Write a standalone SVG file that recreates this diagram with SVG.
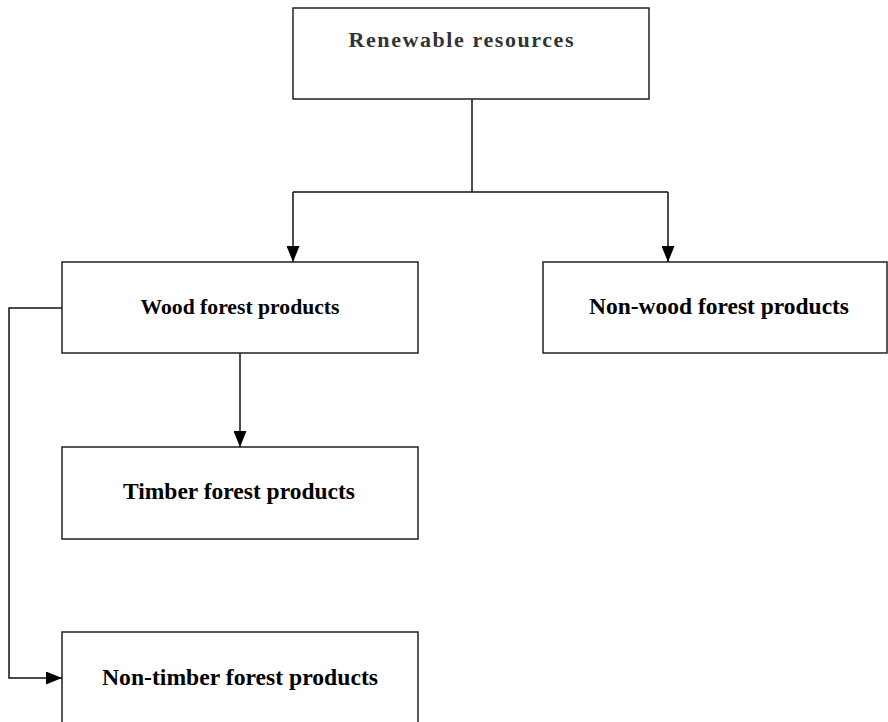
<svg xmlns="http://www.w3.org/2000/svg" width="888" height="722" viewBox="0 0 888 722">
  <style>
    .box { fill: #ffffff; stroke: #222222; stroke-width: 1.5; }
    .lbl { font-family: "Liberation Serif", "Times New Roman", serif; font-weight: bold; fill: #000000; text-anchor: middle; }
    .top { font-family: "Liberation Serif", "Times New Roman", serif; font-weight: bold; fill: #333333; text-anchor: middle; }
    .conn { fill: none; stroke: #111111; stroke-width: 1.5; }
  </style>
  <defs>
    <marker id="arr" markerUnits="userSpaceOnUse" markerWidth="16" markerHeight="13" viewBox="0 0 16 13" refX="16" refY="6.5" orient="auto">
      <path d="M0,0 L16,6.5 L0,13 Z" fill="#000000"/>
    </marker>
  </defs>
  <rect width="888" height="722" fill="#ffffff"/>

  <g id="connectors">
    <path class="conn" d="M472,99 V192"/>
    <path class="conn" d="M293,192 H668"/>
    <path class="conn" d="M293,192 V262" marker-end="url(#arr)"/>
    <path class="conn" d="M668,192 V262" marker-end="url(#arr)"/>
    <path class="conn" d="M240,353 V447" marker-end="url(#arr)"/>
    <path class="conn" d="M62,308 H9 V678 H62" marker-end="url(#arr)"/>
  </g>

  <g id="renewable">
    <rect class="box" x="293" y="8" width="356" height="91"/>
    <text class="top" x="461" y="47" font-size="22" textLength="225" lengthAdjust="spacing">Renewable resources</text>
  </g>

  <g id="wood">
    <rect class="box" x="62" y="262" width="356" height="91"/>
    <text class="lbl" x="240" y="314" font-size="21.5" textLength="199" lengthAdjust="spacingAndGlyphs">Wood forest products</text>
  </g>

  <g id="nonwood">
    <rect class="box" x="543" y="262" width="344" height="91"/>
    <text class="lbl" x="719" y="314" font-size="23" textLength="260" lengthAdjust="spacingAndGlyphs">Non-wood forest products</text>
  </g>

  <g id="timber">
    <rect class="box" x="62" y="447" width="356" height="92"/>
    <text class="lbl" x="239" y="499" font-size="23" textLength="232" lengthAdjust="spacingAndGlyphs">Timber forest products</text>
  </g>

  <g id="nontimber">
    <rect class="box" x="62" y="632" width="356" height="100"/>
    <text class="lbl" x="240" y="685" font-size="23" textLength="276" lengthAdjust="spacingAndGlyphs">Non-timber forest products</text>
  </g>
</svg>
